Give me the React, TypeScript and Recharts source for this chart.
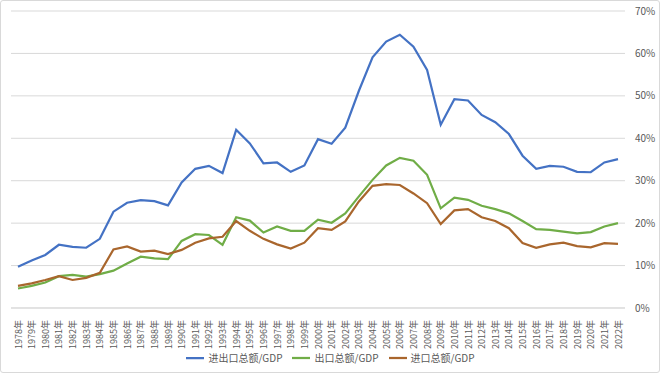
import React from 'react';
import {
  LineChart,
  Line,
  XAxis,
  YAxis,
  CartesianGrid,
  Legend,
} from 'recharts';

const years = [
  '1978年', '1979年', '1980年', '1981年', '1982年', '1983年', '1984年', '1985年', '1986年',
  '1987年', '1988年', '1989年', '1990年', '1991年', '1992年', '1993年', '1994年', '1995年',
  '1996年', '1997年', '1998年', '1999年', '2000年', '2001年', '2002年', '2003年', '2004年',
  '2005年', '2006年', '2007年', '2008年', '2009年', '2010年', '2011年', '2012年', '2013年',
  '2014年', '2015年', '2016年', '2017年', '2018年', '2019年', '2020年', '2021年', '2022年',
];

// 进出口总额/GDP (%)
const totalTrade = [
  9.7, 11.2, 12.5, 14.9, 14.4, 14.2, 16.3, 22.7, 24.8,
  25.4, 25.2, 24.2, 29.6, 32.8, 33.5, 31.8, 42.0, 38.8,
  34.1, 34.3, 32.1, 33.6, 39.8, 38.7, 42.5, 51.2, 59.1,
  62.8, 64.4, 61.6, 56.1, 43.2, 49.2, 48.9, 45.5, 43.8,
  41.0, 35.9, 32.8, 33.5, 33.3, 32.1, 32.0, 34.3, 35.1,
];

// 出口总额/GDP (%)
const exportsShare = [
  4.6, 5.2, 6.0, 7.5, 7.8, 7.4, 8.0, 8.8, 10.5,
  12.1, 11.7, 11.5, 15.8, 17.4, 17.2, 14.9, 21.4, 20.6,
  17.8, 19.2, 18.2, 18.2, 20.8, 20.1, 22.3, 26.3, 30.2,
  33.6, 35.4, 34.7, 31.4, 23.5, 26.0, 25.5, 24.1, 23.3,
  22.3, 20.5, 18.6, 18.4, 18.0, 17.6, 17.9, 19.2, 20.0,
];

// 进口总额/GDP (%)
const importsShare = [
  5.2, 5.8, 6.6, 7.5, 6.6, 7.1, 8.3, 13.8, 14.5,
  13.3, 13.5, 12.7, 13.7, 15.4, 16.4, 16.8, 20.5, 18.2,
  16.3, 15.0, 14.0, 15.4, 18.8, 18.4, 20.4, 25.1, 28.8,
  29.2, 29.0, 27.0, 24.7, 19.8, 23.0, 23.3, 21.4, 20.5,
  18.8, 15.3, 14.2, 15.0, 15.4, 14.6, 14.3, 15.3, 15.1,
];

const seriesNames = ['进出口总额/GDP', '出口总额/GDP', '进口总额/GDP'];

const yTicks = [0, 10, 20, 30, 40, 50, 60, 70];

const data = years.map((y, i) => ({
  year: y,
  total: totalTrade[i],
  exp: exportsShare[i],
  imp: importsShare[i],
}));

const font = '"Noto Sans CJK SC", "Noto Sans", sans-serif';

const YearTick = (props: any) => {
  const { x, y, payload } = props;
  return (
    <text
      x={x}
      y={y + 4}
      transform={`rotate(-90, ${x}, ${y + 4})`}
      textAnchor="end"
      dominantBaseline="central"
      fontSize={9}
      fill="#595959"
      fontFamily={font}
    >
      {payload.value}
    </text>
  );
};

export default function App() {
  return (
    <div
      style={{
        position: 'fixed',
        left: 0,
        top: 0,
        width: 658,
        height: 371,
        border: '1px solid #d9d9d9',
        borderRadius: 3,
        background: '#fff',
        overflow: 'hidden',
      }}
    >
      <div style={{ position: 'absolute', left: -1, top: -1 }}>
        <LineChart
          width={660}
          height={373}
          data={data}
          margin={{ top: 11, right: 0, left: 11, bottom: 5 }}
        >
          <CartesianGrid vertical={false} stroke="#d9d9d9" />
          <XAxis
            dataKey="year"
            interval={0}
            tick={<YearTick />}
            tickLine={false}
            axisLine={{ stroke: '#d9d9d9' }}
            height={40}
            padding={{ left: 7, right: 7 }}
          />
          <YAxis
            orientation="right"
            domain={[0, 70]}
            ticks={yTicks}
            tickFormatter={(v: number) => `${v}%`}
            tickLine={false}
            axisLine={false}
            width={35}
            tick={{ fontSize: 10, fill: '#595959', fontFamily: font }}
            tickMargin={4}
          />
          <Legend
            verticalAlign="bottom"
            height={20}
            iconType="plainline"
            iconSize={18}
            itemSorter={(item: any) => seriesNames.indexOf(item.value)}
            formatter={(value: string) => (
              <span style={{ color: '#595959', fontSize: 10, fontFamily: font }}>{value}</span>
            )}
          />
          <Line
            name={seriesNames[0]}
            dataKey="total"
            stroke="#4472C4"
            strokeWidth={2.2}
            dot={false}
            isAnimationActive={false}
          />
          <Line
            name={seriesNames[1]}
            dataKey="exp"
            stroke="#70AD47"
            strokeWidth={2.2}
            dot={false}
            isAnimationActive={false}
          />
          <Line
            name={seriesNames[2]}
            dataKey="imp"
            stroke="#A9662D"
            strokeWidth={2.2}
            dot={false}
            isAnimationActive={false}
          />
        </LineChart>
      </div>
    </div>
  );
}
